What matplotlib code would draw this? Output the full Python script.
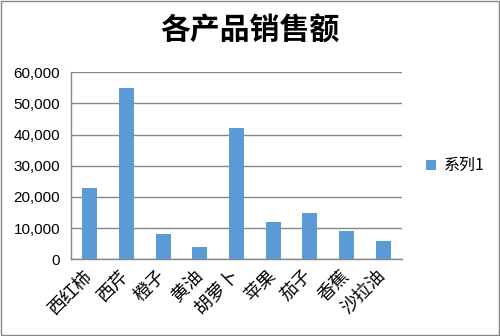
import matplotlib
matplotlib.use('Agg')
import matplotlib.pyplot as plt
from matplotlib.patches import Rectangle
from matplotlib.ticker import FuncFormatter

plt.rcParams['font.family'] = ['Liberation Sans', 'Noto Sans CJK SC', 'DejaVu Sans']

products = ['西红柿', '西芹', '橙子', '黄油', '胡萝卜', '苹果', '茄子', '香蕉', '沙拉油']
sales = [23000, 55000, 8000, 4000, 42000, 12000, 15000, 9000, 6000]
series_name = '系列1'
title = '各产品销售额'

fig = plt.figure(figsize=(5, 3.36), dpi=100)
ax = fig.add_axes([0.1426, 0.2283, 0.6608, 0.5565])

grid_c = '#868686'
ax.bar(range(len(products)), sales, width=0.41, color='#5B9BD5', label=series_name, zorder=3)

ax.set_xlim(-0.5, len(products) - 0.5)
ax.set_ylim(0, 60000)
ax.set_yticks(range(0, 60001, 10000))
ax.yaxis.set_major_formatter(FuncFormatter(lambda v, p: f'{int(v):,}'))
ax.grid(axis='y', color=grid_c, linewidth=1, zorder=0)

for s in ['top', 'right']:
    ax.spines[s].set_visible(False)
for s in ['left', 'bottom']:
    ax.spines[s].set_color(grid_c)
    ax.spines[s].set_linewidth(1)

ax.tick_params(axis='both', length=0, colors='black')
ax.tick_params(axis='y', labelsize=11, pad=8)
ax.set_xticks(range(len(products)))
ax.set_xticklabels(products, rotation=45, ha='right', va='center', rotation_mode='anchor',
                   fontsize=13, family=['Noto Sans CJK SC', 'DejaVu Sans'])
ax.tick_params(axis='x', pad=10)

fig.text(0.5, 0.91, title, ha='center', va='center', fontsize=21.5, fontweight='bold',
         family=['Noto Sans CJK SC', 'DejaVu Sans'])

leg = ax.legend(loc='center left', bbox_to_anchor=(1.03, 0.5), frameon=False,
                handlelength=0.6, handleheight=0.6, handletextpad=0.5,
                prop={'family': ['Noto Sans CJK SC'], 'size': 11.5})

fig.patches.append(Rectangle((0.002, 0.003), 0.995, 0.994, transform=fig.transFigure,
                             fill=False, edgecolor='#888888', linewidth=1))

fig.savefig('out.png', dpi=100)
